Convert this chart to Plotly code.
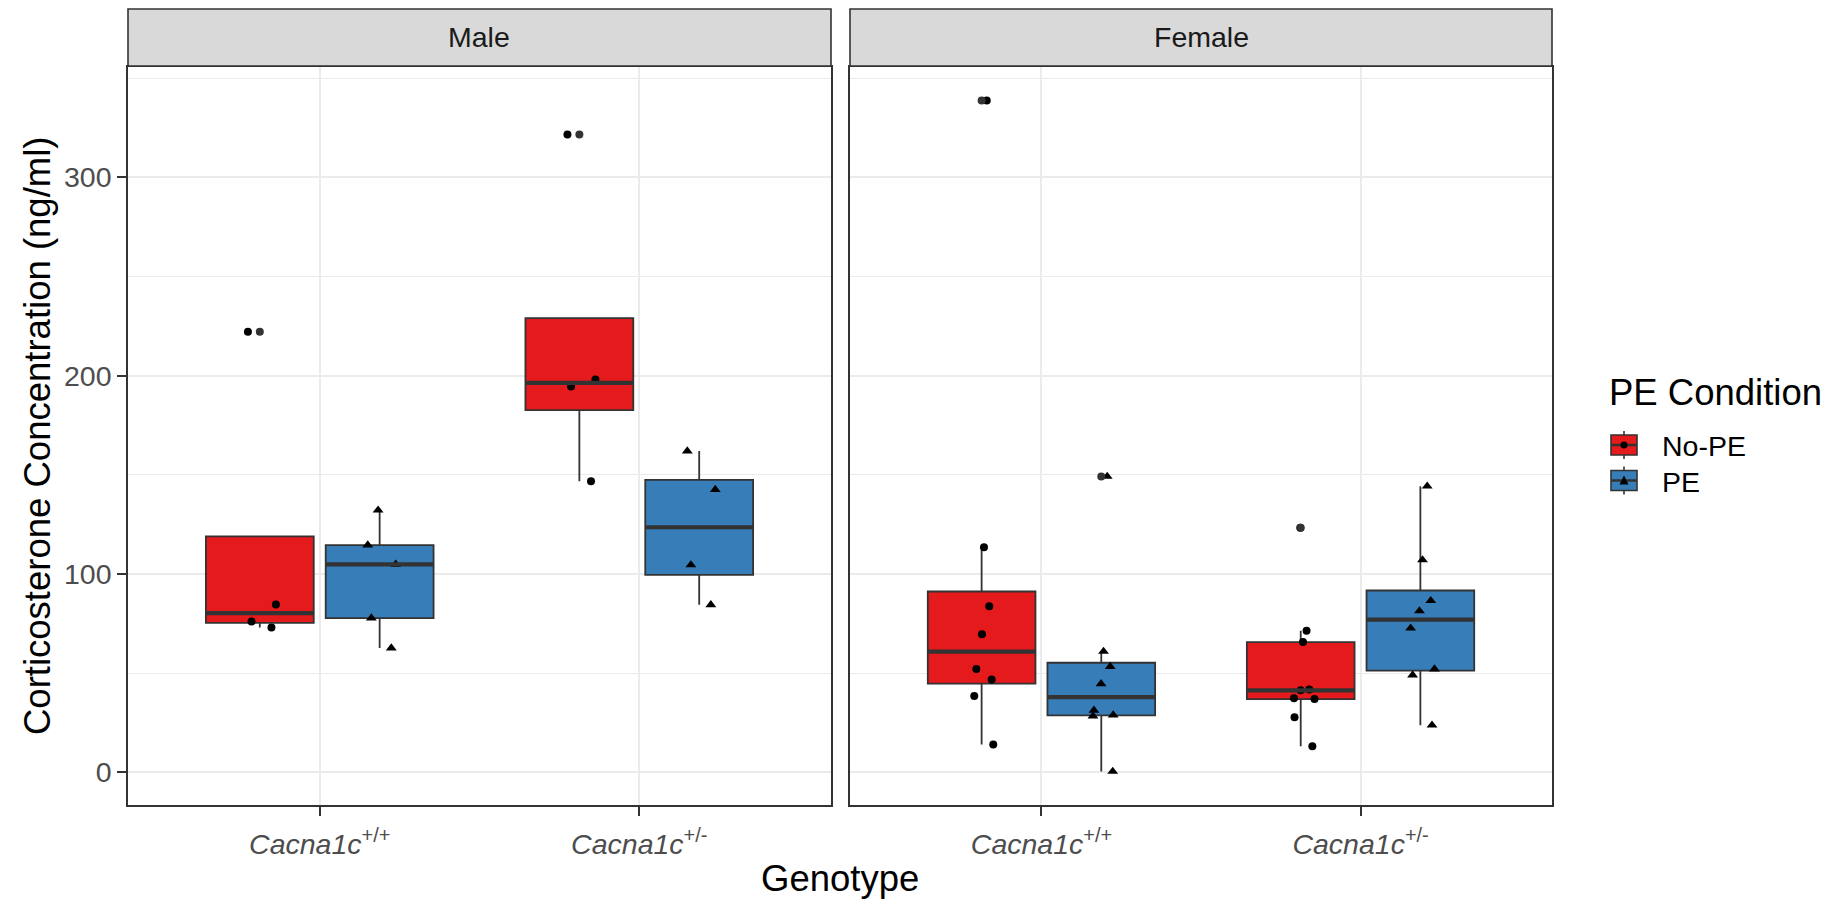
import numpy as np
import plotly.graph_objects as go

# ---------------- data ----------------
sexes = ["Male", "Female"]
genotypes = ["+/+", "+/-"]
tick_labels = ["<i>Cacna1c</i><sup>+/+</sup>", "<i>Cacna1c</i><sup>+/-</sup>"]
conditions = ["No-PE", "PE"]

male_wt_nope = [73.1, 76.1, 84.6, 222.2]
male_wt_pe = [62.7, 77.8, 104.9, 114.6, 132.2]
male_het_nope = [146.8, 194.6, 198.1, 321.6]
male_het_pe = [84.5, 104.6, 142.6, 162.0]
female_wt_nope = [14.1, 38.5, 46.8, 52.1, 69.7, 83.8, 113.5, 338.7]
female_wt_pe = [0.5, 28.4, 28.9, 31.3, 44.7, 53.4, 61.0, 149.2]
female_het_nope = [13.2, 27.8, 37.0, 37.4, 41.4, 41.8, 65.7, 71.4, 123.3]
female_het_pe = [23.8, 49.1, 52.1, 72.7, 81.4, 86.6, 107.1, 144.3]

groups = {
    ("Male", "+/+", "No-PE"): male_wt_nope,
    ("Male", "+/+", "PE"): male_wt_pe,
    ("Male", "+/-", "No-PE"): male_het_nope,
    ("Male", "+/-", "PE"): male_het_pe,
    ("Female", "+/+", "No-PE"): female_wt_nope,
    ("Female", "+/+", "PE"): female_wt_pe,
    ("Female", "+/-", "No-PE"): female_het_nope,
    ("Female", "+/-", "PE"): female_het_pe,
}

# ---------------- styles ----------------
FILL = {"No-PE": "#E41A1C", "PE": "#377EB8"}
SYMBOL = {"No-PE": "circle", "PE": "triangle-up"}
MSIZE = {"No-PE": 8, "PE": 9.5}
DARK = "#333333"
GRID = "#EBEBEB"
FONT = "Liberation Sans, Arial, Helvetica, sans-serif"
W, H = 1845, 907
DODGE = 0.375
BOX_W = DODGE * 0.9

fig = go.Figure()

for si, sex in enumerate(sexes):
    xa = "x" if si == 0 else "x2"
    ya = "y" if si == 0 else "y2"
    for gi, g in enumerate(genotypes):
        for ci, cond in enumerate(conditions):
            vals = np.array(groups[(sex, g, cond)], dtype=float)
            pos = gi + 1 + (ci - 0.5) * DODGE
            q1, med, q3 = np.percentile(vals, [25, 50, 75])
            iqr = q3 - q1
            inside = vals[(vals >= q1 - 1.5 * iqr) & (vals <= q3 + 1.5 * iqr)]
            lo_w, hi_w = inside.min(), inside.max()
            outl = vals[(vals < q1 - 1.5 * iqr) | (vals > q3 + 1.5 * iqr)]
            # box with ggplot-style (type 7) statistics
            fig.add_trace(go.Box(
                x=[pos], q1=[q1], median=[med], q3=[q3],
                lowerfence=[lo_w], upperfence=[hi_w],
                width=BOX_W, whiskerwidth=0, boxpoints=False,
                fillcolor=FILL[cond], line=dict(color=DARK, width=1.8),
                xaxis=xa, yaxis=ya, hoverinfo="skip", showlegend=False))
            # thicker median bar
            fig.add_trace(go.Scatter(
                x=[pos - BOX_W / 2, pos + BOX_W / 2], y=[med, med], mode="lines",
                line=dict(color=DARK, width=4.2), xaxis=xa, yaxis=ya,
                hoverinfo="skip", showlegend=False))
            # boxplot outliers
            if len(outl):
                fig.add_trace(go.Scatter(
                    x=[pos] * len(outl), y=outl, mode="markers",
                    marker=dict(color=DARK, size=8, symbol="circle"),
                    xaxis=xa, yaxis=ya, hoverinfo="skip", showlegend=False))
            # jittered raw points (plotly's own jitter)
            fig.add_trace(go.Box(
                x=[pos] * len(vals), y=vals, width=BOX_W,
                boxpoints="all", jitter=0.32, pointpos=0.05,
                fillcolor="rgba(0,0,0,0)", line=dict(color="rgba(0,0,0,0)", width=0),
                marker=dict(color="black", size=MSIZE[cond], symbol=SYMBOL[cond]),
                xaxis=xa, yaxis=ya, hoverinfo="skip", showlegend=False))

allv = np.concatenate([np.array(v, dtype=float) for v in groups.values()])
pad = 0.05 * (allv.max() - allv.min())
yr = [allv.min() - pad, allv.max() + pad]

def px_x(p):
    return p / W

def px_y(p):
    return 1 - p / H

xdom = [[px_x(128), px_x(831)], [px_x(850), px_x(1552)]]
ydom = [px_y(805), px_y(67)]

xcommon = dict(range=[0.4, 2.6], tickmode="array", tickvals=[1, 2], ticktext=tick_labels,
               ticks="outside", ticklen=9, tickwidth=2, tickcolor=DARK, ticklabelstandoff=4,
               showgrid=True, gridcolor=GRID, gridwidth=2.2, zeroline=False,
               showline=True, mirror=True, linecolor=DARK, linewidth=1.6,
               tickfont=dict(size=28.5, color="#4D4D4D", family=FONT))
ycommon = dict(range=yr, tickmode="array", tickvals=[0, 100, 200, 300],
               showgrid=True, gridcolor=GRID, gridwidth=2.2, zeroline=False,
               showline=True, mirror=True, linecolor=DARK, linewidth=1.6,
               minor=dict(dtick=50, tick0=0, showgrid=True, gridcolor=GRID, gridwidth=1.1, ticks=""),
               tickfont=dict(size=28.5, color="#4D4D4D", family=FONT), domain=ydom)

fig.update_layout(
    xaxis=dict(domain=xdom[0], anchor="y", **xcommon),
    xaxis2=dict(domain=xdom[1], anchor="y2", **xcommon),
    yaxis=dict(anchor="x", ticks="outside", ticklen=9, tickwidth=2, tickcolor=DARK, **ycommon),
    yaxis2=dict(anchor="x2", matches="y", showticklabels=False, ticks="", **ycommon),
)

shapes = []
annotations = []
# facet strips
for si, sex in enumerate(sexes):
    x0, x1 = xdom[si]
    shapes.append(dict(type="rect", xref="paper", yref="paper", x0=x0, x1=x1,
                       y0=px_y(66), y1=px_y(9), fillcolor="#D9D9D9",
                       line=dict(color=DARK, width=1.6), layer="above"))
    annotations.append(dict(text=sex, xref="paper", yref="paper", x=(x0 + x1) / 2, y=px_y(37.5),
                            showarrow=False, xanchor="center", yanchor="middle",
                            font=dict(size=28.5, color="#1A1A1A", family=FONT)))

# axis titles
annotations.append(dict(text="Corticosterone Concentration (ng/ml)", xref="paper", yref="paper",
                        x=px_x(37), y=px_y(436), textangle=-90, showarrow=False,
                        xanchor="center", yanchor="middle",
                        font=dict(size=36.5, color="black", family=FONT)))
annotations.append(dict(text="Genotype", xref="paper", yref="paper",
                        x=px_x(840), y=px_y(878), showarrow=False,
                        xanchor="center", yanchor="middle",
                        font=dict(size=36.5, color="black", family=FONT)))

# legend
annotations.append(dict(text="PE Condition", xref="paper", yref="paper",
                        x=px_x(1607), y=px_y(392), showarrow=False,
                        xanchor="left", yanchor="middle",
                        font=dict(size=36.5, color="black", family=FONT)))
for ci, cond in enumerate(conditions):
    cy = 445 + ci * 35.5
    shapes.append(dict(type="line", xref="paper", yref="paper", x0=px_x(1624), x1=px_x(1624),
                       y0=px_y(cy - 14), y1=px_y(cy + 14), line=dict(color=DARK, width=1.6)))
    shapes.append(dict(type="rect", xref="paper", yref="paper", x0=px_x(1611), x1=px_x(1637),
                       y0=px_y(cy + 10), y1=px_y(cy - 10), fillcolor=FILL[cond],
                       line=dict(color=DARK, width=1.6)))
    shapes.append(dict(type="line", xref="paper", yref="paper", x0=px_x(1611), x1=px_x(1637),
                       y0=px_y(cy), y1=px_y(cy), line=dict(color=DARK, width=2.5)))
    if cond == "No-PE":
        shapes.append(dict(type="circle", xref="paper", yref="paper", x0=px_x(1620.5), x1=px_x(1627.5),
                           y0=px_y(cy + 3.5), y1=px_y(cy - 3.5), fillcolor="black",
                           line=dict(color="black", width=0)))
    else:
        shapes.append(dict(type="path", xref="paper", yref="paper",
                           path=f"M {px_x(1619.5)},{px_y(cy + 4)} L {px_x(1628.5)},{px_y(cy + 4)} "
                                f"L {px_x(1624)},{px_y(cy - 5)} Z",
                           fillcolor="black", line=dict(color="black", width=0)))
    annotations.append(dict(text=cond, xref="paper", yref="paper", x=px_x(1660), y=px_y(cy + 1),
                            showarrow=False, xanchor="left", yanchor="middle",
                            font=dict(size=28.5, color="black", family=FONT)))

fig.update_layout(
    width=W, height=H, margin=dict(l=0, r=0, t=0, b=0, autoexpand=False),
    plot_bgcolor="white", paper_bgcolor="white", showlegend=False,
    font=dict(family=FONT), shapes=shapes, annotations=annotations,
)

fig.write_html("out.html", config={"displayModeBar": False},
               post_script="document.body.style.margin='0';document.body.style.overflow='hidden';")
